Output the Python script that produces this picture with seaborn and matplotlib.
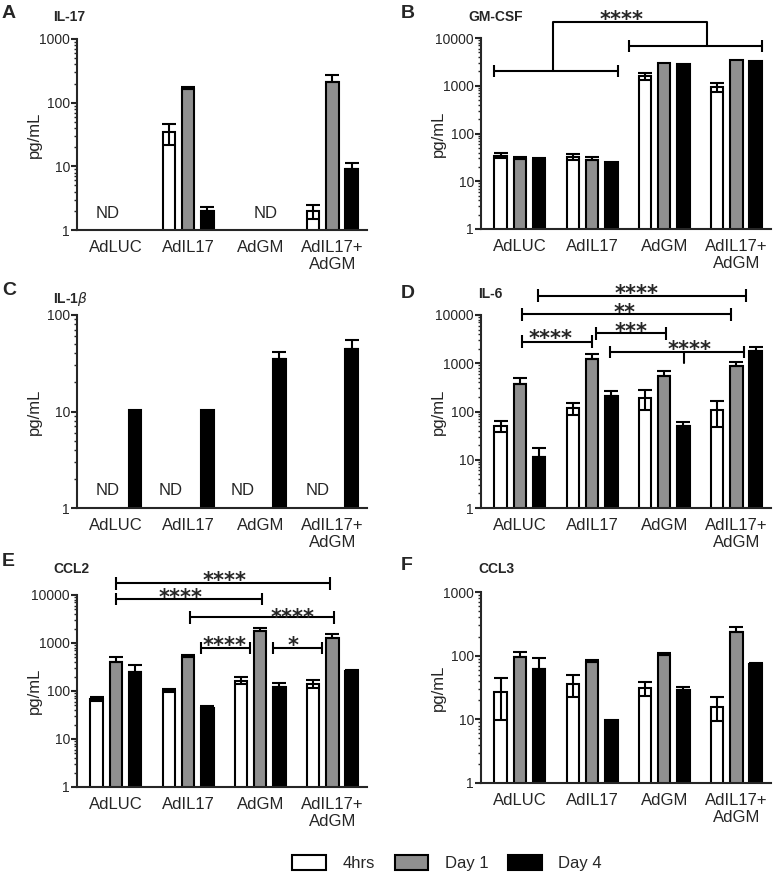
import numpy as np
import pandas as pd
import matplotlib
matplotlib.use("Agg")
import matplotlib.pyplot as plt
from matplotlib.patches import Patch
from matplotlib.ticker import LogLocator, NullFormatter
import seaborn as sns

# categories
groups = ["AdLUC", "AdIL17", "AdGM", "AdIL17+\nAdGM"]
times = ["4hrs", "Day 1", "Day 4"]
bar_colors = ["white", "#8f8f8f", "black"]
nd = np.nan  # not detected

# mean and SEM (pg/mL), one row per group, columns = 4hrs, Day 1, Day 4
il17_mean = [[nd, nd, nd], [34, 162, 2.0], [nd, nd, nd], [2.0, 213, 9.1]]
il17_sem = [[0, 0, 0], [12, 12, 0.3], [0, 0, 0], [0.5, 58, 2.0]]

gmcsf_mean = [[34.4, 29.3, 28], [32.8, 28, 25.4], [1611, 3007, 2917], [948, 3420, 3266]]
gmcsf_sem = [[4, 3.5, 2.5], [4.5, 3.5, 0], [280, 0, 0], [220, 0, 0]]

il1b_mean = [[nd, nd, 10.3], [nd, nd, 10.3], [nd, nd, 34.9], [nd, nd, 44.4]]
il1b_sem = [[0, 0, 0], [0, 0, 0], [0, 0, 6], [0, 0, 11]]

il6_mean = [[50.4, 370, 11.3], [116, 1202, 208], [195, 542, 49], [107, 888, 1817]]
il6_sem = [[13, 115, 6.6], [33, 320, 60], [87, 135, 13], [59, 155, 380]]

ccl2_mean = [[68.7, 410, 247], [102, 505, 44], [165, 1782, 124], [141, 1297, 262]]
ccl2_sem = [[7, 95, 103], [6, 70, 4], [28, 245, 26], [27, 220, 9]]

ccl3_mean = [[27.2, 94, 61], [35.6, 80, 9.6], [30.8, 103, 29], [15.8, 236, 73]]
ccl3_sem = [[17.6, 21, 30], [13.5, 5, 0], [7.5, 9, 3.7], [6.3, 41, 4]]

# "ND" labels: (group position, level)
il17_nd = [(-0.12, 1.94), (2.08, 1.94)]
il1b_nd = [(-0.12, 1.59), (0.76, 1.59), (1.76, 1.59), (2.8, 1.59)]

# significance bars: (from, to, line level, stars, star x, star level, middle tick or None)
il6_sig = [(0.25, 3.14, 25100, "****", 1.62, 37600, None),
           (0.03, 2.93, 10300, "**", 1.45, 14800, None),
           (0.03, 1.00, 2790, "****", 0.43, 4270, None),
           (1.05, 2.02, 4170, "***", 1.54, 6030, None),
           (1.25, 3.10, 1700, "****", 2.35, 2570, (2.27, 990))]
ccl2_sig = [(0.0, 2.97, 17500, "****", 1.5, 26000, None),
            (0.0, 2.03, 8260, "****", 0.9, 11750, None),
            (1.02, 3.02, 3436, "****", 2.45, 4470, None),
            (1.18, 1.86, 778, "****", 1.51, 1150, None),
            (2.18, 2.85, 778, "*", 2.45, 1150, None)]
# GM-CSF: two bracketed sets joined by one line
gm_left = (-0.36, 1.36, 2018)
gm_right = (1.51, 3.36, 6800)
gm_join = (0.46, 2.59, 21600)
gm_star = (1.41, 32800)

sns.set_style("ticks")
plt.rcParams["font.family"] = ["Liberation Sans", "DejaVu Sans"]

W, H = 778, 877
fig = plt.figure(figsize=(W / 100, H / 100), dpi=100)


def box(x0, x1, top, bottom):
    return [x0 / W, 1 - bottom / H, (x1 - x0) / W, (bottom - top) / H]


def text_at(ax, x, y, s, fs, mid, **kw):
    # put the glyph centre on (x, y)
    ax.annotate(s, (x, y), xytext=(0, -mid * fs), textcoords="offset points",
                ha="center", va="baseline", fontsize=fs, annotation_clip=False, **kw)


def stars_at(ax, x, y, s):
    text_at(ax, x, y, s, 15, 0.59, family="DejaVu Sans", fontweight="bold")


def bracket(ax, x0, x1, y, d=0.13):
    lo, hi = y * 10 ** -d, y * 10 ** d
    kw = dict(color="black", lw=1.5, clip_on=False, solid_capstyle="butt")
    ax.plot([x0, x1], [y, y], **kw)
    ax.plot([x0, x0], [lo, hi], **kw)
    ax.plot([x1, x1], [lo, hi], **kw)


def bar_panel(ax, means, sems, ymax):
    rows = []
    for g, m_row, s_row in zip(groups, means, sems):
        for t, m, s in zip(times, m_row, s_row):
            rows.append({"group": g, "time": t, "value": m})
    df = pd.DataFrame(rows).dropna()
    sns.barplot(data=df, x="group", y="value", hue="time", order=groups,
                hue_order=times, palette=bar_colors, edgecolor="black",
                linewidth=1.5, width=0.8, gap=0.35, dodge=True, errorbar=None,
                legend=False, ax=ax)
    ax.set_yscale("log")

    step = 0.8 / len(times)
    for bar in ax.patches:
        h = bar.get_height()
        if not np.isfinite(h) or h <= 0:
            continue
        xc = bar.get_x() + bar.get_width() / 2
        gi = int(round(xc))
        ti = int(round((xc - gi) / step)) + 1
        s = sems[gi][ti]
        if s <= 0:
            continue
        lower = s if ti == 0 else 0
        ax.errorbar(xc, h, yerr=[[lower], [s]], fmt="none", ecolor="black",
                    elinewidth=1.5, capsize=5, capthick=1.5, zorder=3)

    ax.set_ylim(1, ymax)
    decades = 10.0 ** np.arange(0, int(round(np.log10(ymax))) + 1)
    ax.set_yticks(decades, [f"{d:g}" for d in decades])
    ax.yaxis.set_minor_locator(LogLocator(base=10, subs=np.arange(2, 10), numticks=20))
    ax.yaxis.set_minor_formatter(NullFormatter())
    ax.set_xlim(-0.54, 3.48)
    ax.set_xlabel("")
    ax.set_ylabel("pg/mL", fontsize=12)
    ax.yaxis.set_label_coords(-0.12, 0.5)
    ax.tick_params(axis="x", length=0, pad=7, labelsize=12)
    ax.tick_params(axis="y", which="major", length=4, width=1.5, pad=1, labelsize=10)
    ax.tick_params(axis="y", which="minor", length=2.2, width=1)
    sns.despine(ax=ax)
    for sp in ["left", "bottom"]:
        ax.spines[sp].set_linewidth(1.5)


ax_a = fig.add_axes(box(77, 367, 39, 230))
ax_b = fig.add_axes(box(481, 771, 38, 229))
ax_c = fig.add_axes(box(77, 367, 315, 508))
ax_d = fig.add_axes(box(481, 771, 315, 508))
ax_e = fig.add_axes(box(77, 367, 595, 787))
ax_f = fig.add_axes(box(481, 771, 592, 783))

bar_panel(ax_a, il17_mean, il17_sem, 1000)
bar_panel(ax_b, gmcsf_mean, gmcsf_sem, 10000)
bar_panel(ax_c, il1b_mean, il1b_sem, 100)
bar_panel(ax_d, il6_mean, il6_sem, 10000)
bar_panel(ax_e, ccl2_mean, ccl2_sem, 10000)
bar_panel(ax_f, ccl3_mean, ccl3_sem, 1000)

for x, y in il17_nd:
    text_at(ax_a, x, y, "ND", 12, 0.36)
for x, y in il1b_nd:
    text_at(ax_c, x, y, "ND", 12, 0.36)

for ax, sig in [(ax_d, il6_sig), (ax_e, ccl2_sig)]:
    for x0, x1, y, s, sx, sy, mid in sig:
        bracket(ax, x0, x1, y)
        if mid is not None:
            ax.plot([mid[0], mid[0]], [y, mid[1]], color="black", lw=1.5, clip_on=False)
        stars_at(ax, sx, sy, s)

bracket(ax_b, *gm_left)
bracket(ax_b, *gm_right)
ax_b.plot([gm_join[0], gm_join[0], gm_join[1], gm_join[1]],
          [gm_left[2], gm_join[2], gm_join[2], gm_right[2]],
          color="black", lw=1.5, clip_on=False)
stars_at(ax_b, gm_star[0], gm_star[1], "****")

# panel letters and titles
letters = [("A", 2, 18), ("B", 401, 18), ("C", 2, 295),
           ("D", 401, 298), ("E", 2, 566), ("F", 401, 570)]
for s, x, y in letters:
    fig.text(x / W, 1 - y / H, s, fontsize=14, fontweight="bold", va="baseline")
titles = [("IL-17", 53, 21), ("GM-CSF", 468, 21), ("IL-1$\\beta$", 53, 303),
          ("IL-6", 478, 298), ("CCL2", 53, 573), ("CCL3", 478, 573)]
for s, x, y in titles:
    fig.text(x / W, 1 - y / H, s, fontsize=10, fontweight="bold", va="baseline")

handles = [Patch(facecolor=c, edgecolor="black", linewidth=1.5, label=t)
           for c, t in zip(bar_colors, times)]
fig.legend(handles=handles, loc="center", bbox_to_anchor=(447 / W, 1 - 863 / H),
           ncol=3, frameon=False, fontsize=12, handlelength=2.0, handleheight=1.0,
           handletextpad=1.0, columnspacing=1.2)

fig.savefig("out.png", dpi=100)
